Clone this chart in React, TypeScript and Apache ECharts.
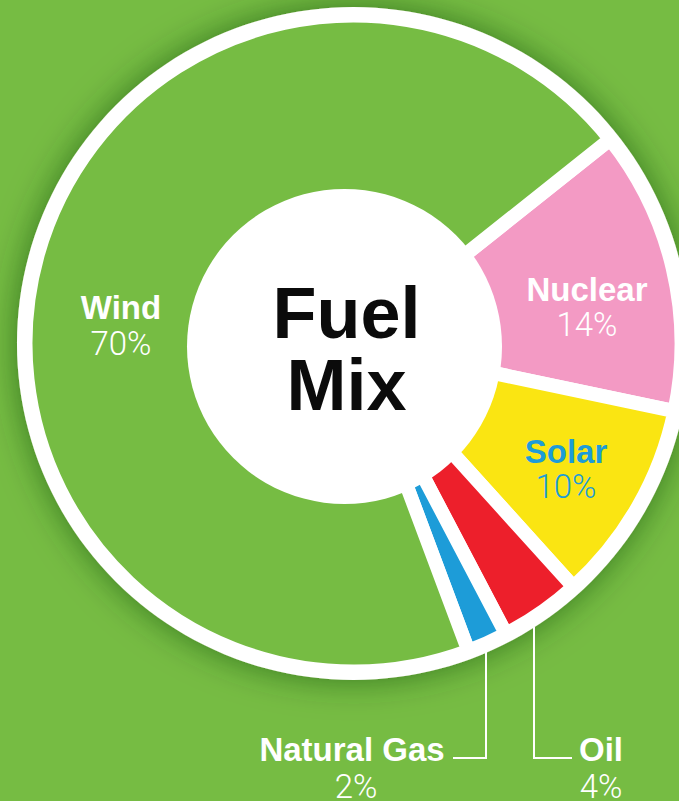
import React, { useEffect, useRef } from "react";
import * as echarts from "echarts";

// ---- data ----
const categories = ["Nuclear", "Solar", "Oil", "Natural Gas", "Wind"];
const shares = [14, 10, 4, 2, 70];
const sliceColors = ["#F39AC4", "#FAE512", "#ED1F2B", "#1D9CD8", "#76BC43"];
const nameColors = ["#FFFFFF", "#1D9CD8", "#FFFFFF", "#FFFFFF", "#FFFFFF"];
const pctColors = ["#FFFFFF", "#1D9CD8", "#FFFFFF", "#FFFFFF", "#FFFFFF"];
const titleLines = ["Fuel", "Mix"];

// ---- layout (label anchor points: center x, name baseline, pct baseline) ----
const labelPos: [number, number, number][] = [
  [587, 300, 335],
  [566, 462, 497],
  [601, 760, 797],
  [352, 760, 797],
  [121, 318, 354],
];
const leaderLines: Record<string, [number, number][]> = {
  Oil: [[534, 627], [534, 758], [572, 758]],
  "Natural Gas": [[486, 652], [486, 758], [453, 758]],
};

const BG = "#76BC43";
const BOLD_FONT = "'Liberation Sans', Arial, Helvetica, sans-serif";
const LIGHT_FONT = "Roboto, 'Liberation Sans', Arial, sans-serif";

export default function App() {
  const ref = useRef<HTMLDivElement>(null);
  useEffect(() => {
    document.body.style.margin = "0";
    if (!ref.current) return;
    const chart = echarts.init(ref.current, null, { renderer: "svg" });

    const nameSize = 33;
    const pctSize = 33;
    const graphics: any[] = [];
    // center white disc
    graphics.push({
      type: "circle",
      z: 100,
      shape: { cx: 344.5, cy: 346.5, r: 157.5 },
      style: { fill: "#FFFFFF" },
      silent: true,
    });
    titleLines.forEach((t, i) => {
      graphics.push({
        type: "text",
        z: 110,
        x: 346.5,
        y: [338, 410][i] - 25,
        style: {
          text: t,
          fill: "#0B0B0B",
          font: `bold 72px ${BOLD_FONT}`,
          align: "center",
          verticalAlign: "middle",
        },
        silent: true,
      });
    });
    categories.forEach((c, i) => {
      const [cx, nb, pb] = labelPos[i];
      graphics.push({
        type: "text",
        z: 110,
        x: cx,
        y: nb - nameSize * 0.33,
        style: {
          text: c,
          fill: nameColors[i],
          font: `bold ${nameSize}px ${BOLD_FONT}`,
          align: "center",
          verticalAlign: "middle",
        },
        silent: true,
      });
      graphics.push({
        type: "text",
        z: 110,
        x: cx + (c === "Natural Gas" ? 4 : 0),
        y: pb - pctSize * 0.33,
        style: {
          text: `${shares[i]}%`,
          fill: pctColors[i],
          font: `300 ${pctSize}px ${LIGHT_FONT}`,
          align: "center",
          verticalAlign: "middle",
        },
        silent: true,
      });
      if (leaderLines[c]) {
        graphics.push({
          type: "polyline",
          z: 105,
          shape: { points: leaderLines[c] },
          style: { stroke: "#FFFFFF", lineWidth: 2, fill: "none" },
          silent: true,
        });
      }
    });

    chart.setOption({
      animation: false,
      backgroundColor: BG,
      graphic: graphics,
      series: [
        {
          type: "pie",
          z: 1,
          silent: true,
          center: [353.5, 343.5],
          radius: [0, 336.5],
          label: { show: false },
          labelLine: { show: false },
          itemStyle: {
            color: "#FFFFFF",
            shadowBlur: 34,
            shadowColor: "rgba(20,60,10,0.55)",
          },
          data: [{ value: 1, name: "ring" }],
        },
        {
          type: "pie",
          z: 2,
          silent: true,
          center: [353.5, 343.5],
          radius: [100, 328],
          startAngle: 38.5,
          clockwise: true,
          label: { show: false },
          labelLine: { show: false },
          itemStyle: { borderColor: "#FFFFFF", borderWidth: 14 },
          data: categories.map((c, i) => ({
            name: c,
            value: shares[i],
            itemStyle: { color: sliceColors[i] },
          })),
        },
      ],
    });
    return () => chart.dispose();
  }, []);
  return <div ref={ref} style={{ width: 679, height: 801 }} />;
}
